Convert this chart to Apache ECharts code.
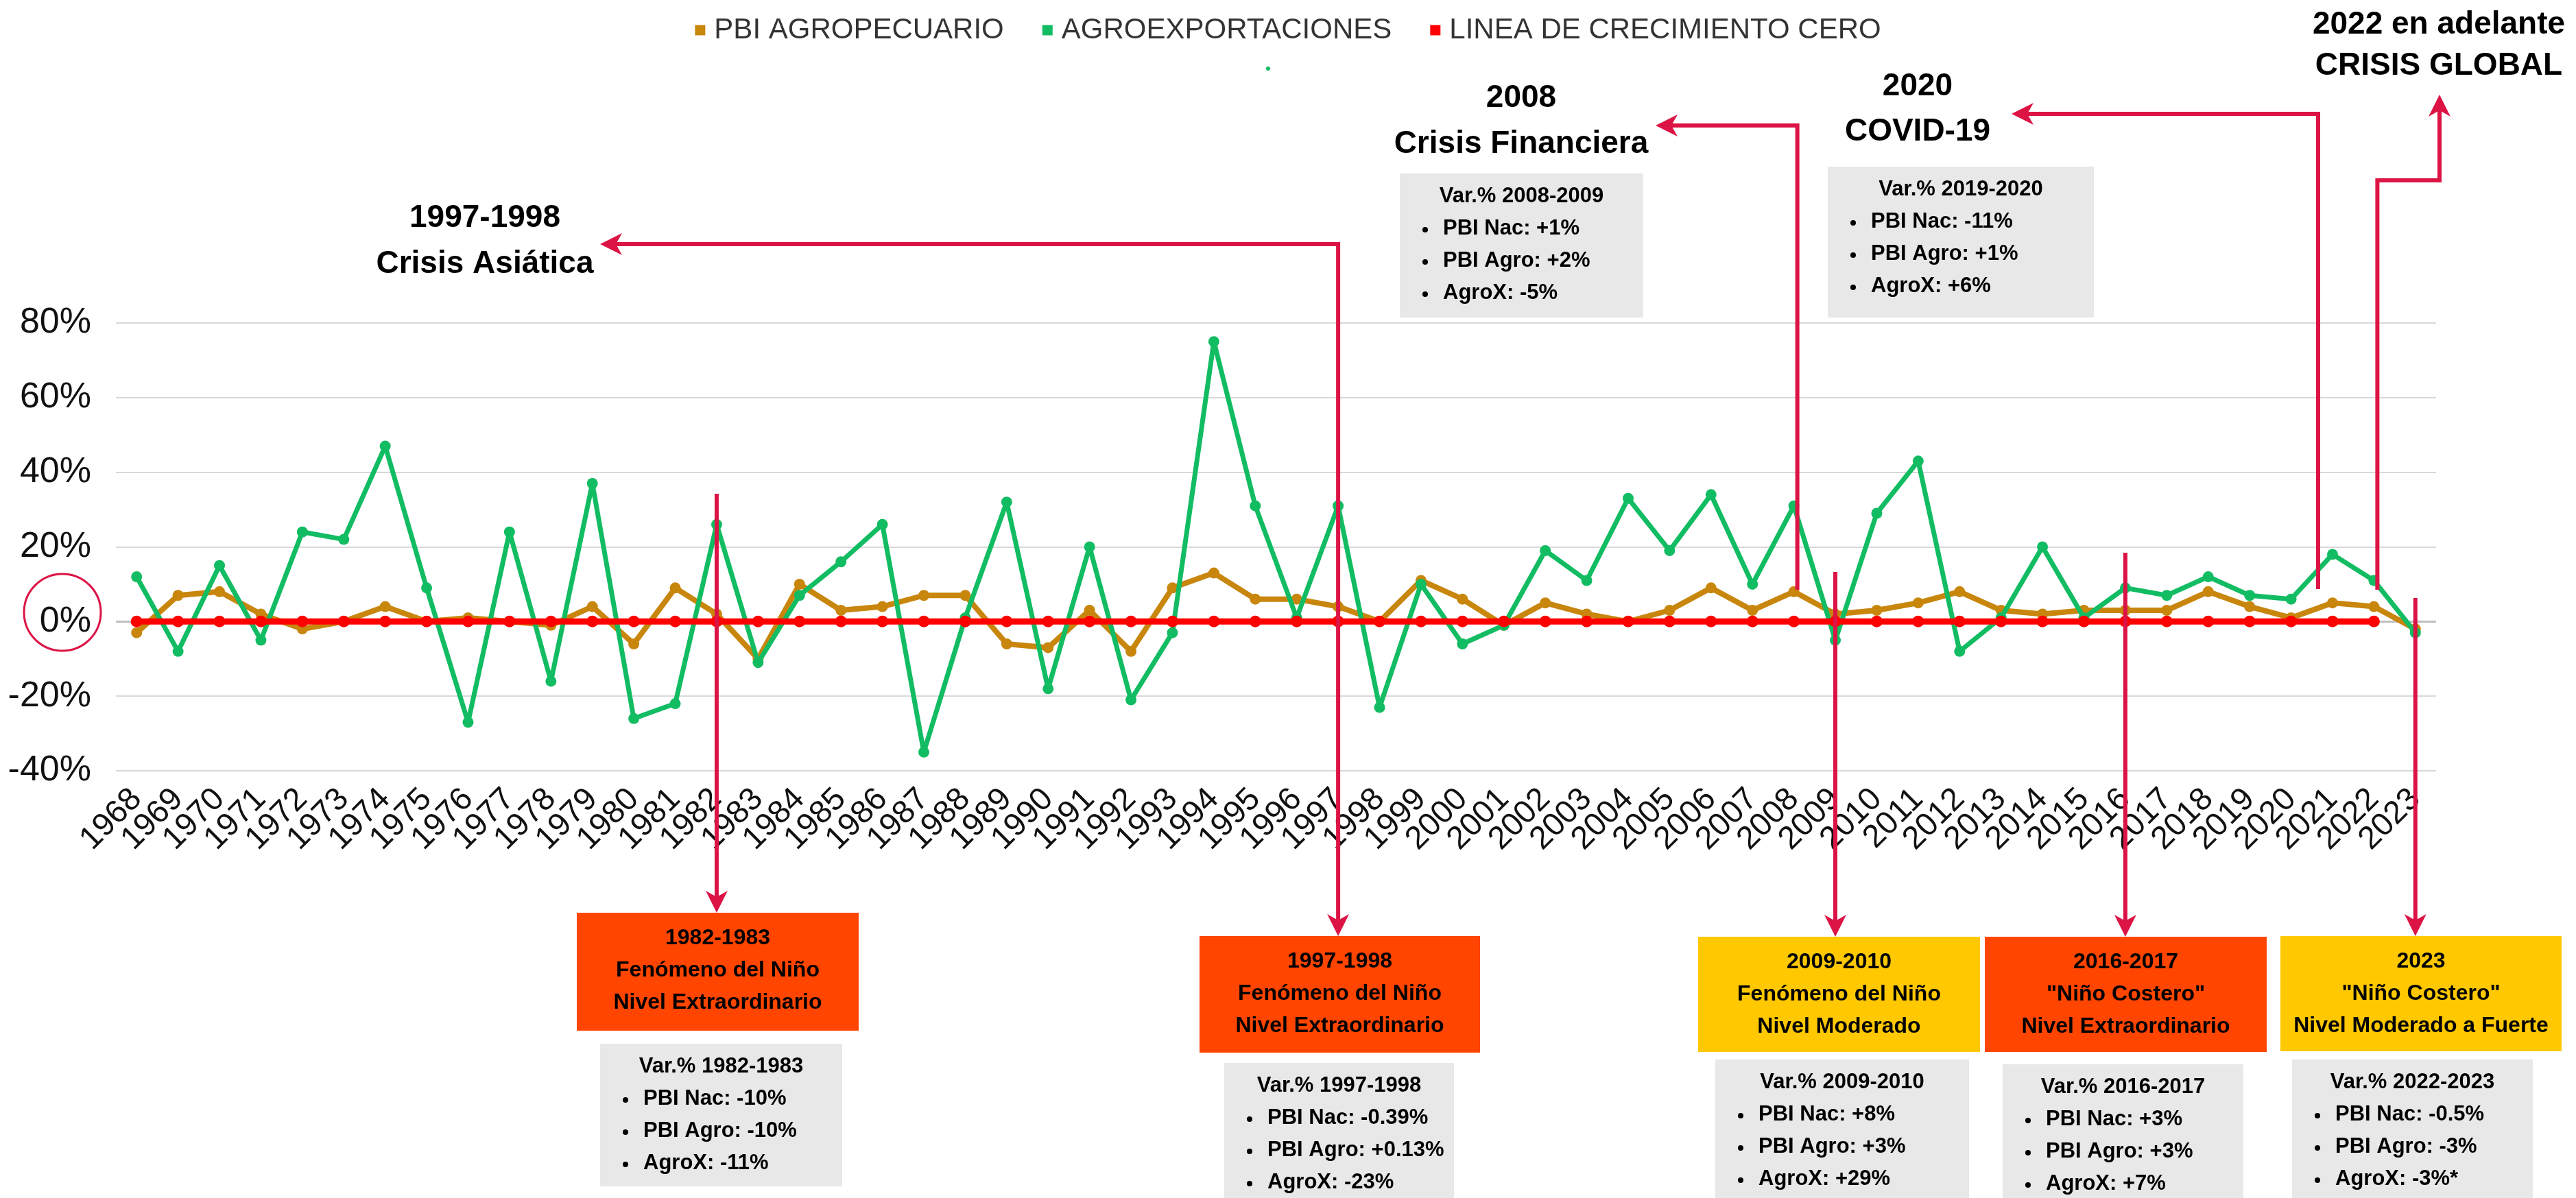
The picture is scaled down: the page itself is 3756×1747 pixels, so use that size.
<!DOCTYPE html>
<html>
<head>
<meta charset="utf-8">
<script src="https://cdn.jsdelivr.net/npm/echarts@6/dist/echarts.min.js"></script>
<style>
  html, body { margin: 0; padding: 0; background: #fff; }
  #chart { width: 3756px; height: 1747px; }
</style>
</head>
<body>
<div id="chart"></div>
<script>
// años del eje x
var years = [
  '1968', '1969', '1970', '1971', '1972', '1973', '1974', '1975', '1976', '1977',
  '1978', '1979', '1980', '1981', '1982', '1983', '1984', '1985', '1986', '1987',
  '1988', '1989', '1990', '1991', '1992', '1993', '1994', '1995', '1996', '1997',
  '1998', '1999', '2000', '2001', '2002', '2003', '2004', '2005', '2006', '2007',
  '2008', '2009', '2010', '2011', '2012', '2013', '2014', '2015', '2016', '2017',
  '2018', '2019', '2020', '2021', '2022', '2023'
];

// variación % PBI agropecuario
var pbiAgro = [
  -3, 7, 8, 2, -2, 0, 4, 0, 1, 0,
  -1, 4, -6, 9, 2, -10, 10, 3, 4, 7,
  7, -6, -7, 3, -8, 9, 13, 6, 6, 4,
  0, 11, 6, -1, 5, 2, 0, 3, 9, 3,
  8, 2, 3, 5, 8, 3, 2, 3, 3, 3,
  8, 4, 1, 5, 4, -2
];

// variación % agroexportaciones
var agroExport = [
  12, -8, 15, -5, 24, 22, 47, 9, -27, 24,
  -16, 37, -26, -22, 26, -11, 7, 16, 26, -35,
  1, 32, -18, 20, -21, -3, 75, 31, 1, 31,
  -23, 10, -6, -1, 19, 11, 33, 19, 34, 10,
  31, -5, 29, 43, -8, 1, 20, 1, 9, 7,
  12, 7, 6, 18, 11, -3
];

// linea de crecimiento cero (hasta 2022)
var zeroLine = [
  0, 0, 0, 0, 0, 0, 0, 0, 0, 0,
  0, 0, 0, 0, 0, 0, 0, 0, 0, 0,
  0, 0, 0, 0, 0, 0, 0, 0, 0, 0,
  0, 0, 0, 0, 0, 0, 0, 0, 0, 0,
  0, 0, 0, 0, 0, 0, 0, 0, 0, 0,
  0, 0, 0, 0, 0, null
];

var yMin = -40, yMax = 80, yStep = 20;

var FONT = 'Liberation Sans, Arial, sans-serif';
var ARROW = '#DC1446';
var ORANGE_BOX = '#FF4500';
var YELLOW_BOX = '#FFC800';
var GRAY_BOX = '#E8E8E8';

var chart = echarts.init(document.getElementById('chart'));
chart.setOption({
  animation: false,
  backgroundColor: '#fff',
  textStyle: { fontFamily: FONT },
  legend: {
    top: 18,
    left: 'center',
    icon: 'rect',
    itemWidth: 15,
    itemHeight: 15,
    itemGap: 56,
    textStyle: { fontSize: 42, color: '#333', fontFamily: FONT, padding: [0, 0, 0, 8] }
  },
  grid: { left: 169, right: 204, top: 471, bottom: 623, outerBoundsMode: 'none' },
  xAxis: {
    type: 'category',
    data: years,
    boundaryGap: true,
    axisLine: { show: false },
    axisTick: { show: false },
    axisLabel: { interval: 0, rotate: 45, fontSize: 47, color: '#111', margin: 34 }
  },
  yAxis: {
    type: 'value',
    min: yMin,
    max: yMax,
    interval: yStep,
    axisLine: { show: false },
    axisTick: { show: false },
    axisLabel: { fontSize: 52, color: '#111', margin: 36, formatter: '{value}%' },
    splitLine: { lineStyle: { color: '#d9d9d9', width: 2 } }
  },
  series: [
    {
      name: 'PBI AGROPECUARIO',
      type: 'line',
      z: 3,
      data: pbiAgro,
      color: '#C8860D',
      symbol: 'circle',
      symbolSize: 16,
      showAllSymbol: true,
      lineStyle: { width: 8 },
      markLine: {
        silent: true,
        z: 1,
        symbol: 'none',
        label: { show: false },
        lineStyle: { color: '#bfbfbf', width: 3, type: 'solid' },
        data: [{ yAxis: 0 }]
      }
    },
    {
      name: 'AGROEXPORTACIONES',
      type: 'line',
      z: 4,
      data: agroExport,
      color: '#12BC63',
      symbol: 'circle',
      symbolSize: 16,
      showAllSymbol: true,
      lineStyle: { width: 7 }
    },
    {
      name: 'LINEA DE CRECIMIENTO CERO',
      type: 'line',
      z: 5,
      data: zeroLine,
      color: '#FF0000',
      symbol: 'circle',
      symbolSize: 17,
      showAllSymbol: true,
      lineStyle: { width: 9 }
    }
  ]
});

// ---------- anotaciones ----------
function xOf(year) {
  return chart.convertToPixel({ xAxisIndex: 0 }, year);
}

function line(points) {
  return {
    type: 'polyline', z: 100,
    shape: { points: points },
    style: { stroke: ARROW, lineWidth: 6, fill: null, lineJoin: 'miter' }
  };
}

// punta de flecha, dir: down / up / left
function head(tx, ty, dir) {
  var L = 32, W = 16, N = 9;
  var pts = [[0, 0], [-W, -L], [0, -L + N], [W, -L]];
  var out = pts.map(function (p) {
    if (dir === 'up') return [tx + p[0], ty - p[1]];
    if (dir === 'left') return [tx - p[1], ty + p[0]];
    return [tx + p[0], ty + p[1]];
  });
  return { type: 'polygon', z: 101, shape: { points: out }, style: { fill: ARROW } };
}

function label(cx, cy, text, lh) {
  return {
    type: 'text', z: 100, x: cx, y: cy,
    style: {
      text: text, fontSize: 46, fontWeight: 'bold', fontFamily: FONT,
      fill: '#000', align: 'center', verticalAlign: 'middle', lineHeight: lh
    }
  };
}

function colorBox(x, y, w, h, color, lines) {
  var els = [{ type: 'rect', z: 50, shape: { x: x, y: y, width: w, height: h }, style: { fill: color } }];
  lines.forEach(function (t, i) {
    els.push({
      type: 'text', z: 51, x: x + w / 2, y: y + 37 + i * 47,
      style: { text: t, fontSize: 32, fontWeight: 'bold', fontFamily: FONT, fill: '#000', align: 'center', verticalAlign: 'middle' }
    });
  });
  return els;
}

function grayBox(x, y, w, h, title, items) {
  var els = [{ type: 'rect', z: 50, shape: { x: x, y: y, width: w, height: h }, style: { fill: GRAY_BOX } }];
  els.push({
    type: 'text', z: 51, x: x + w / 2, y: y + 33,
    style: { text: title, fontSize: 31, fontWeight: 'bold', fontFamily: FONT, fill: '#000', align: 'center', verticalAlign: 'middle' }
  });
  items.forEach(function (t, i) {
    var ly = y + 80 + i * 47;
    els.push({
      type: 'circle', z: 51, shape: { cx: x + 37, cy: ly + 2, r: 4 }, style: { fill: '#000' }
    });
    els.push({
      type: 'text', z: 51, x: x + 63, y: ly,
      style: { text: t, fontSize: 31, fontWeight: 'bold', fontFamily: FONT, fill: '#000', align: 'left', verticalAlign: 'middle' }
    });
  });
  return els;
}

var x82 = xOf('1982'), x97 = xOf('1997'), x08 = xOf('2008') + 5, x09 = xOf('2009');
var x16 = xOf('2016'), x20 = 3380, x22 = xOf('2022') + 5, x23 = xOf('2023');

var g = [];

// circulo en 0%
g.push({ type: 'circle', z: 100, shape: { cx: 91, cy: 893, r: 56 }, style: { fill: null, stroke: ARROW, lineWidth: 3 } });
// marca verde bajo la leyenda
g.push({ type: 'circle', z: 100, shape: { cx: 1849, cy: 100, r: 3 }, style: { fill: '#12BC63' } });

// 1982
g.push(line([[x82, 720], [x82, 1310]]));
g.push(head(x82, 1331, 'down'));
// 1997
g.push(line([[896, 356], [x97, 356], [x97, 1345]]));
g.push(head(875, 356, 'left'));
g.push(head(x97, 1365, 'down'));
// 2008
g.push(line([[2435, 183], [x08, 183], [x08, 860]]));
g.push(head(2414, 183, 'left'));
// 2009
g.push(line([[x09, 834], [x09, 1345]]));
g.push(head(x09, 1366, 'down'));
// 2016
g.push(line([[x16, 806], [x16, 1345]]));
g.push(head(x16, 1366, 'down'));
// 2020
g.push(line([[2954, 166], [x20, 166], [x20, 859]]));
g.push(head(2933, 166, 'left'));
// 2022
g.push(line([[x22, 860], [x22, 263], [3557, 263], [3557, 158]]));
g.push(head(3557, 138, 'up'));
// 2023
g.push(line([[x23, 872], [x23, 1345]]));
g.push(head(x23, 1365, 'down'));

// titulos de crisis
g.push(label(707, 352, '1997-1998\nCrisis Asiática', 67));
g.push(label(2218, 177, '2008\nCrisis Financiera', 67));
g.push(label(2796, 159, '2020\nCOVID-19', 66));
g.push(label(3556, 66, '2022 en adelante\nCRISIS GLOBAL', 60));

// cuadros superiores
g = g.concat(grayBox(2041, 253, 355, 210, 'Var.% 2008-2009', ['PBI Nac: +1%', 'PBI Agro: +2%', 'AgroX: -5%']));
g = g.concat(grayBox(2665, 243, 388, 220, 'Var.% 2019-2020', ['PBI Nac: -11%', 'PBI Agro: +1%', 'AgroX: +6%']));

// cuadros del Niño
g = g.concat(colorBox(841, 1331, 411, 172, ORANGE_BOX, ['1982-1983', 'Fenómeno del Niño', 'Nivel Extraordinario']));
g = g.concat(colorBox(1749, 1365, 409, 170, ORANGE_BOX, ['1997-1998', 'Fenómeno del Niño', 'Nivel Extraordinario']));
g = g.concat(colorBox(2476, 1366, 411, 168, YELLOW_BOX, ['2009-2010', 'Fenómeno del Niño', 'Nivel Moderado']));
g = g.concat(colorBox(2894, 1366, 411, 168, ORANGE_BOX, ['2016-2017', '"Niño Costero"', 'Nivel Extraordinario']));
g = g.concat(colorBox(3325, 1365, 410, 168, YELLOW_BOX, ['2023', '"Niño Costero"', 'Nivel Moderado a Fuerte']));

g = g.concat(grayBox(875, 1522, 353, 208, 'Var.% 1982-1983', ['PBI Nac: -10%', 'PBI Agro: -10%', 'AgroX: -11%']));
g = g.concat(grayBox(1785, 1550, 335, 197, 'Var.% 1997-1998', ['PBI Nac: -0.39%', 'PBI Agro: +0.13%', 'AgroX: -23%']));
g = g.concat(grayBox(2501, 1545, 370, 202, 'Var.% 2009-2010', ['PBI Nac: +8%', 'PBI Agro: +3%', 'AgroX: +29%']));
g = g.concat(grayBox(2920, 1552, 351, 195, 'Var.% 2016-2017', ['PBI Nac: +3%', 'PBI Agro: +3%', 'AgroX: +7%']));
g = g.concat(grayBox(3342, 1545, 351, 202, 'Var.% 2022-2023', ['PBI Nac: -0.5%', 'PBI Agro: -3%', 'AgroX: -3%*']));

chart.setOption({ graphic: { elements: g } });
</script>
</body>
</html>
